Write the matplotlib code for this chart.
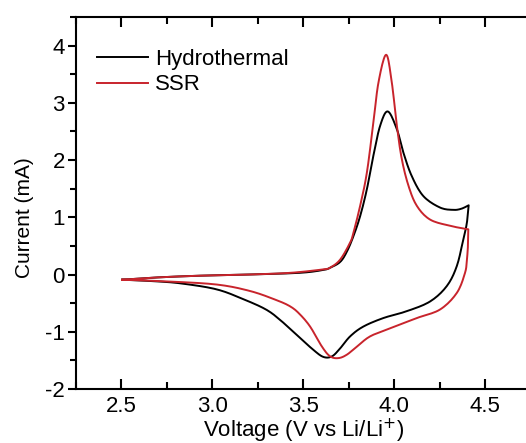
import numpy as np
import matplotlib
matplotlib.use('Agg')
from matplotlib import pyplot as plt
from matplotlib.ticker import MultipleLocator

plt.rcParams['font.family'] = ['Liberation Sans', 'DejaVu Sans']
plt.rcParams['axes.unicode_minus'] = False

# Hydrothermal: anodic (forward) scan, then cathodic (reverse) scan
hydro_fwd_v = [2.504, 2.70, 2.934, 3.20, 3.48, 3.61, 3.648, 3.703, 3.74, 3.776, 3.813,
               3.85, 3.886, 3.923, 3.965, 4.015, 4.051, 4.097, 4.161, 4.253, 4.326,
               4.37, 4.41]
hydro_fwd_i = [-0.09, -0.05, -0.02, 0.00, 0.03, 0.08, 0.12, 0.22, 0.40, 0.67, 1.02,
               1.49, 2.08, 2.60, 2.85, 2.54, 2.13, 1.72, 1.37, 1.17, 1.13,
               1.15, 1.21]
hydro_rev_v = [4.41, 4.40, 4.38, 4.345, 4.29, 4.198, 4.07, 3.941, 3.83, 3.758, 3.703,
               3.658, 3.611, 3.557, 3.48, 3.39, 3.30, 3.17, 3.025, 2.84, 2.70, 2.504]
hydro_rev_i = [1.21, 0.90, 0.61, 0.15, -0.20, -0.47, -0.64, -0.76, -0.91, -1.08, -1.29,
               -1.43, -1.44, -1.32, -1.10, -0.84, -0.62, -0.43, -0.26, -0.16, -0.12, -0.09]

# SSR
ssr_fwd_v = [2.504, 2.70, 2.934, 3.20, 3.43, 3.61, 3.648, 3.703, 3.758, 3.776, 3.813,
             3.85, 3.886, 3.914, 3.956, 3.987, 4.015, 4.042, 4.079, 4.125, 4.198,
             4.31, 4.408]
ssr_fwd_i = [-0.09, -0.05, -0.02, 0.00, 0.03, 0.09, 0.12, 0.26, 0.56, 0.73, 1.20,
             1.78, 2.66, 3.36, 3.84, 3.36, 2.60, 2.02, 1.55, 1.20, 0.96,
             0.85, 0.79]
ssr_rev_v = [4.408, 4.406, 4.40, 4.39, 4.345, 4.253, 4.125, 3.978, 3.868, 3.795, 3.74,
             3.694, 3.648, 3.603, 3.538, 3.48, 3.43, 3.355, 3.21, 3.025, 2.75, 2.504]
ssr_rev_i = [0.79, 0.50, 0.25, 0.03, -0.32, -0.61, -0.76, -0.94, -1.08, -1.26, -1.40,
             -1.46, -1.43, -1.26, -0.91, -0.69, -0.56, -0.45, -0.29, -0.175, -0.12, -0.09]


def smooth(xs, ys, n=10):
    # Catmull-Rom densification through the read-off points
    pts = np.column_stack([xs, ys])
    out = []
    for k in range(len(pts) - 1):
        p0 = pts[max(k - 1, 0)]
        p1 = pts[k]
        p2 = pts[k + 1]
        p3 = pts[min(k + 2, len(pts) - 1)]
        for t in np.linspace(0, 1, n, endpoint=False):
            t2, t3 = t * t, t * t * t
            out.append(0.5 * ((2 * p1) + (-p0 + p2) * t +
                              (2 * p0 - 5 * p1 + 4 * p2 - p3) * t2 +
                              (-p0 + 3 * p1 - 3 * p2 + p3) * t3))
    out.append(pts[-1])
    out = np.array(out)
    return out[:, 0], out[:, 1]


def loop(fv, fi, rv, ri):
    ax1, ay1 = smooth(fv, fi)
    ax2, ay2 = smooth(rv, ri)
    return np.concatenate([ax1, ax2]), np.concatenate([ay1, ay2])


fig = plt.figure(figsize=(5.26, 4.43), dpi=100)
ax = fig.add_axes([0.1445, 0.1219, 0.864, 0.8397])

hx, hy = loop(hydro_fwd_v, hydro_fwd_i, hydro_rev_v, hydro_rev_i)
sx, sy = loop(ssr_fwd_v, ssr_fwd_i, ssr_rev_v, ssr_rev_i)
ax.plot(hx, hy, color='black', lw=1.4, label='Hydrothermal')
ax.plot(sx, sy, color='#c8242c', lw=1.4, label='SSR')

ax.set_xlim(2.25, 4.75)
ax.set_ylim(-2, 4.5)
ax.set_xticks([2.5, 3.0, 3.5, 4.0, 4.5])
ax.set_xticklabels(['2.5', '3.0', '3.5', '4.0', '4.5'])
ax.xaxis.set_minor_locator(MultipleLocator(0.25))
ax.yaxis.set_major_locator(MultipleLocator(1))
ax.yaxis.set_minor_locator(MultipleLocator(0.5))

for s in ax.spines.values():
    s.set_linewidth(1.5)
ax.tick_params(axis='x', which='both', direction='in', top=True, labelsize=16, width=1.5, pad=5)
ax.tick_params(axis='x', which='major', length=7)
ax.tick_params(axis='x', which='minor', length=5)
ax.tick_params(axis='y', which='both', direction='out', labelsize=16, width=1.5, pad=2)
ax.tick_params(axis='y', which='major', length=6)
ax.tick_params(axis='y', which='minor', length=4)

ax.set_xlabel('Voltage (V vs Li/Li$^{+}$)', fontsize=16, labelpad=0)
ax.set_ylabel('Current (mA)', fontsize=15)
ax.yaxis.set_label_coords(-0.092, 0.46)

ax.legend(loc='upper left', frameon=False, fontsize=16, handlelength=2.3,
          handletextpad=0.3, labelspacing=0.2, borderpad=0, borderaxespad=0,
          bbox_to_anchor=(0.046, 0.914))

fig.savefig('out.png', dpi=100)
